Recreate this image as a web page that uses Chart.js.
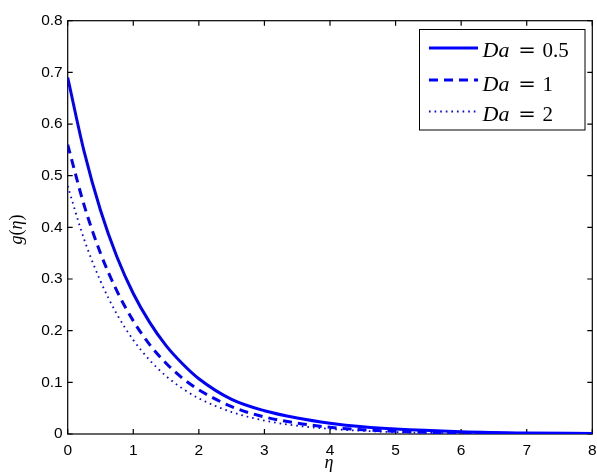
<!DOCTYPE html>
<html>
<head>
<meta charset="utf-8">
<script src="https://cdn.jsdelivr.net/npm/chart.js@4.4.1/dist/chart.umd.min.js"></script>
<style>
html,body{margin:0;padding:0;background:#fff;}
#wrap{width:597px;height:474px;}
</style>
</head>
<body>
<div id="wrap"><canvas id="c" width="597" height="474"></canvas></div>
<script>
// ---- data ----
const etas   = [0, 0.25, 0.5, 0.75, 1, 1.25, 1.5, 1.75, 2, 2.5, 3, 3.5, 4, 4.5, 5, 6, 7, 8];
const gDa05  = [0.69, 0.547, 0.433, 0.343, 0.272, 0.216, 0.171, 0.136, 0.107, 0.067, 0.045, 0.031, 0.021, 0.014, 0.0095, 0.0045, 0.002, 0.001];
const gDa1   = [0.56, 0.443, 0.350, 0.277, 0.219, 0.173, 0.137, 0.108, 0.0855, 0.053, 0.033, 0.021, 0.013, 0.0081, 0.0051, 0.002, 0.001, 0.0005];
const gDa2   = [0.48, 0.377, 0.296, 0.232, 0.182, 0.143, 0.112, 0.088, 0.069, 0.0425, 0.026, 0.016, 0.0099, 0.0061, 0.0037, 0.0014, 0.0005, 0.0002];
const daLabels = ['0.5', '1', '2'];
const xTicks = [0, 1, 2, 3, 4, 5, 6, 7, 8];
const yTicks = [0, 0.1, 0.2, 0.3, 0.4, 0.5, 0.6, 0.7, 0.8];

const toPts = arr => etas.map((x, i) => ({x: x, y: arr[i]}));
const BLUE = '#0000ff';

const styles = [
  {borderWidth: 3, borderDash: []},
  {borderWidth: 3, borderDash: [9, 6]},
  {borderWidth: 1.8, borderDash: [1.6, 4]}
];
const series = [gDa05, gDa1, gDa2];

const datasets = series.map((s, i) => ({
  label: 'Da = ' + daLabels[i],
  data: toPts(s),
  borderColor: BLUE,
  backgroundColor: BLUE,
  borderWidth: styles[i].borderWidth,
  borderDash: styles[i].borderDash,
  pointRadius: 0,
  cubicInterpolationMode: 'monotone',
  fill: false
}));

const SERIF = '"Liberation Serif", "Times New Roman", serif';

const framePlugin = {
  id: 'frame',
  beforeDatasetsDraw(chart) {
    const {ctx, chartArea: a, scales: {x, y}} = chart;
    ctx.save();
    ctx.strokeStyle = '#000';
    ctx.lineWidth = 1.2;
    ctx.strokeRect(a.left, a.top, a.right - a.left, a.bottom - a.top);
    const L = 5;
    ctx.beginPath();
    xTicks.forEach(v => {
      const px = x.getPixelForValue(v);
      ctx.moveTo(px, a.bottom); ctx.lineTo(px, a.bottom - L);
      ctx.moveTo(px, a.top); ctx.lineTo(px, a.top + L);
    });
    yTicks.forEach(v => {
      const py = y.getPixelForValue(v);
      ctx.moveTo(a.left, py); ctx.lineTo(a.left + L, py);
      ctx.moveTo(a.right, py); ctx.lineTo(a.right - L, py);
    });
    ctx.stroke();
    ctx.restore();
  },
  afterDatasetsDraw(chart) {
    const {ctx} = chart;
    ctx.save();
    // legend box
    const bx = 419.5, by = 29.5, bw = 165.5, bh = 100.5;
    ctx.fillStyle = '#fff';
    ctx.fillRect(bx, by, bw, bh);
    ctx.strokeStyle = '#000';
    ctx.lineWidth = 1;
    ctx.strokeRect(bx, by, bw, bh);
    const rowsY = [48, 80, 111.5];
    const baseY = [56.7, 90.5, 120.5];
    chart.data.datasets.forEach((ds, i) => {
      ctx.strokeStyle = ds.borderColor;
      ctx.lineWidth = ds.borderWidth;
      ctx.setLineDash(ds.borderDash);
      ctx.beginPath();
      ctx.moveTo(429, rowsY[i]);
      ctx.lineTo(478, rowsY[i]);
      ctx.stroke();
      ctx.setLineDash([]);
      ctx.fillStyle = '#000';
      ctx.textBaseline = 'alphabetic';
      ctx.textAlign = 'left';
      ctx.font = 'italic 22px ' + SERIF;
      ctx.fillText('Da', 482.5, baseY[i]);
      ctx.textAlign = 'center';
      ctx.font = '21px "DejaVu Serif", serif';
      ctx.fillText('=', 527, baseY[i]);
      ctx.textAlign = 'left';
      ctx.font = '21px ' + SERIF;
      ctx.fillText(daLabels[i], 542.5, baseY[i]);
    });
    // x axis title
    ctx.fillStyle = '#000';
    ctx.textAlign = 'center';
    ctx.textBaseline = 'alphabetic';
    ctx.font = 'italic 18px ' + SERIF;
    ctx.fillText('\u03b7', 329, 468);
    // y axis title
    ctx.translate(22, 229.5);
    ctx.rotate(-Math.PI / 2);
    const parts = [
      {t: 'g', italic: true}, {t: '(', italic: false}, {t: '\u03b7', italic: true}, {t: ')', italic: false}
    ];
    let total = 0;
    parts.forEach(p => { ctx.font = (p.italic ? 'italic ' : '') + '18px ' + SERIF; p.w = ctx.measureText(p.t).width; total += p.w; });
    let cx = -total / 2;
    ctx.textAlign = 'left';
    parts.forEach(p => { ctx.font = (p.italic ? 'italic ' : '') + '18px ' + SERIF; ctx.fillText(p.t, cx, 0); cx += p.w; });
    ctx.restore();
  }
};

new Chart(document.getElementById('c'), {
  type: 'line',
  data: {datasets: datasets},
  options: {
    responsive: false,
    animation: false,
    devicePixelRatio: 1,
    layout: {padding: {top: 20.7, right: 4.7, left: 0, bottom: 0}},
    plugins: {legend: {display: false}, tooltip: {enabled: false}},
    scales: {
      x: {
        type: 'linear', min: 0, max: 8,
        grid: {display: false, drawTicks: false},
        border: {display: false},
        afterBuildTicks: s => { s.ticks = xTicks.map(v => ({value: v})); },
        afterFit: s => { s.height = 40; s.paddingLeft = 0; s.paddingRight = 0; },
        ticks: {autoSkip: false, maxRotation: 0, padding: 7, color: '#000',
                font: {family: '"Liberation Sans", Arial, sans-serif', size: 15.5}}
      },
      y: {
        type: 'linear', min: 0, max: 0.8,
        grid: {display: false, drawTicks: false},
        border: {display: false},
        afterBuildTicks: s => { s.ticks = yTicks.map(v => ({value: v})); },
        afterFit: s => { s.width = 67.7; s.paddingTop = 0; s.paddingBottom = 0; },
        ticks: {autoSkip: false, padding: 5, color: '#000',
                callback: v => String(Math.round(v * 10) / 10),
                font: {family: '"Liberation Sans", Arial, sans-serif', size: 15.5}}
      }
    }
  },
  plugins: [framePlugin]
});
</script>
</body>
</html>
